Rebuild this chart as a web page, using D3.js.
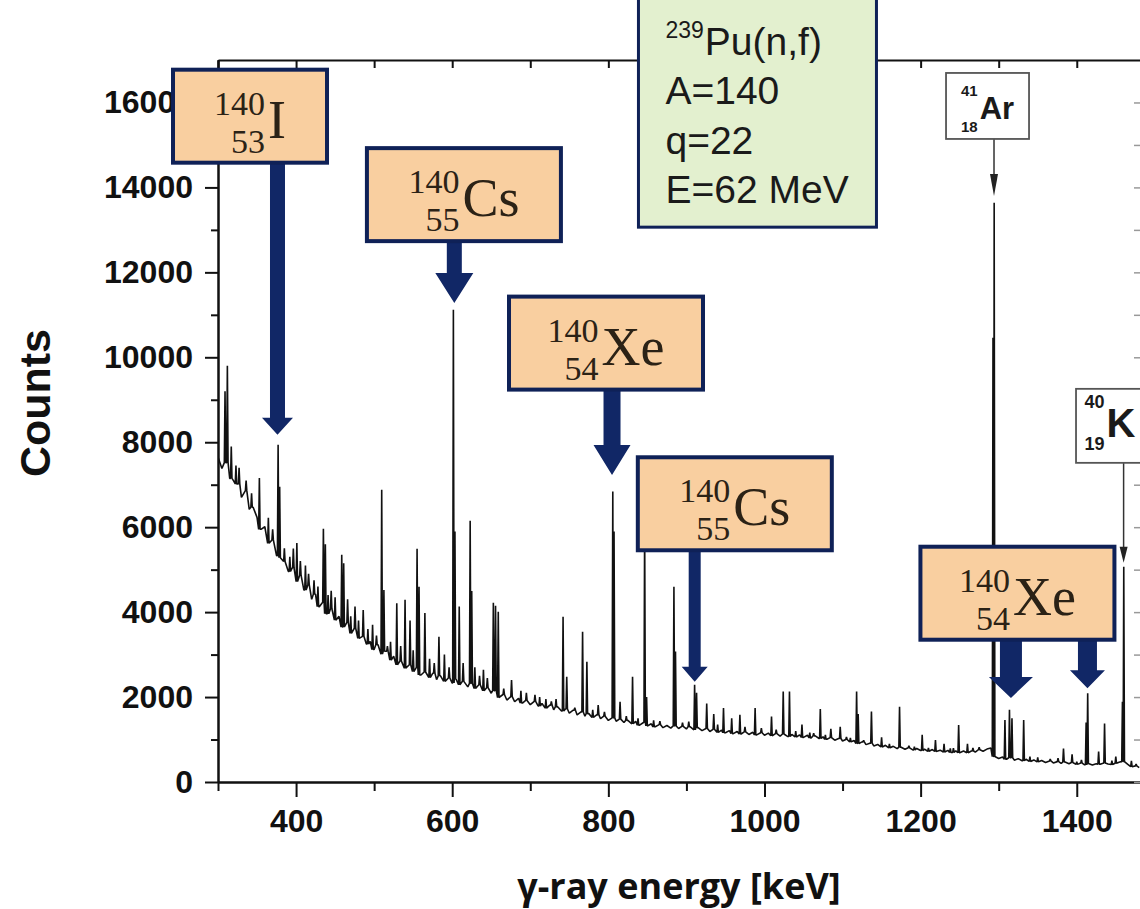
<!DOCTYPE html>
<html>
<head>
<meta charset="utf-8">
<script src="https://cdn.jsdelivr.net/npm/d3@7"></script>
<style>
  body { margin: 0; background: #fff; }
  svg { display: block; }
</style>
</head>
<body>
<div id="chart"></div>
<script>
// gamma spectrum, continuum sampled every 5 keV from 300 keV
const bgStart = 300;
const bgStep = 5;
const bgCounts = [
  7650, 7380, 7520, 7150, 7090, 7020, 6700, 6860, 6420, 6470, 6230, 5950, 6010, 5620, 5700, 5330, 5280, 5190, 4960, 5040,
  4720, 4870, 4520, 4640, 4300, 4420, 4130, 4230, 3960, 4080, 3810, 3900, 3650, 3760, 3500, 3620, 3380, 3430, 3250, 3310,
  3120, 3230, 3010, 3080, 2870, 2960, 2760, 2850, 2680, 2760, 2600, 2700, 2520, 2590, 2460, 2560, 2410, 2500, 2370, 2450,
  2330, 2420, 2290, 2370, 2240, 2320, 2200, 2290, 2150, 2220, 2090, 2150, 1990, 2060, 1930, 2010, 1890, 1970, 1860, 1920,
  1820, 1900, 1790, 1850, 1740, 1810, 1700, 1770, 1670, 1720, 1620, 1690, 1580, 1650, 1550, 1610, 1520, 1580, 1490, 1550,
  1450, 1510, 1430, 1480, 1400, 1450, 1370, 1430, 1340, 1400, 1320, 1370, 1300, 1350, 1280, 1330, 1270, 1320, 1260, 1310,
  1250, 1300, 1230, 1280, 1210, 1260, 1190, 1240, 1170, 1220, 1160, 1210, 1140, 1190, 1130, 1180, 1120, 1170, 1110, 1160,
  1100, 1150, 1090, 1140, 1080, 1130, 1070, 1120, 1060, 1110, 1050, 1100, 1040, 1085, 1025, 1065, 1005, 1045, 985, 1025,
  965, 1000, 945, 975, 905, 945, 880, 915, 850, 885, 825, 865, 805, 840, 785, 820, 770, 805, 755, 790,
  740, 775, 725, 765, 720, 750, 705, 745, 695, 735, 690, 730, 690, 730, 705, 760, 725, 775, 800, 600,
  555, 590, 535, 570, 515, 550, 500, 535, 485, 520, 475, 505, 460, 495, 450, 480, 440, 470, 430, 460,
  415, 445, 405, 435, 400, 430, 420, 450, 425, 410, 440, 470, 480, 420, 360, 380, 340
];

// strong peak lines: energy (keV) and top counts
const peakEnergy = [
  309, 312, 317, 323, 336, 353, 364.5, 377, 379, 392, 396.5, 401, 405.5, 412, 416,
  435, 437.5, 445, 450, 458.5, 461, 466, 475.5, 486, 498, 509.7, 512.5, 521, 529, 539.6,
  546, 555, 557.5, 565, 583, 590, 601.5, 603.5, 609, 614, 623, 625, 629, 640, 652.7,
  655.5, 659, 676, 688, 706, 720, 742, 746.7, 767, 772.5, 787, 805.7, 807.3, 815, 831,
  846.5, 849, 884, 886, 910.5, 913, 926, 935, 947.5, 958, 968.5, 988, 1009, 1024, 1032,
  1048, 1071.5, 1085, 1097, 1118, 1120, 1137, 1150, 1173, 1202, 1219, 1230, 1248.7, 1260,
  1292.7, 1294.2, 1308, 1313.8, 1317, 1332, 1383, 1394, 1412, 1414, 1428, 1435.6, 1458.5, 1460.2, 1470
];
const peakCounts = [
  9200, 9800, 7900, 7450, 7100, 7160, 6220, 7940, 6950, 5300, 5500, 5630, 5200, 5100, 4900,
  5960, 5600, 4500, 4350, 5350, 5150, 4300, 4130, 4050, 3700, 6880, 4520, 3300, 4210, 4290,
  3800, 5490, 4600, 3980, 3420, 3000, 11120, 5900, 4130, 2800, 6150, 4500, 2700, 2640, 4220,
  4150, 4010, 2400, 2150, 2050, 1950, 3890, 2480, 3540, 2830, 1810, 6840, 5900, 1890, 2480,
  6100, 2000, 4600, 3070, 2290, 2100, 1850, 1600, 1740, 1500, 1580, 1740, 1540, 2130, 2130,
  1350, 1720, 1250, 1300, 2130, 1600, 1660, 1050, 1770, 1110, 990, 900, 1340, 900,
  10460, 13640, 1460, 1700, 1500, 1460, 790, 650, 1400, 2090, 715, 1380, 1890, 5070, 500
];

// small lines on the continuum
const minorEnergy = [
  327, 343, 370, 385, 423, 428, 441, 470, 480, 492, 503, 517, 534, 550, 571, 577, 596,
  635, 645, 666, 695, 712, 727, 733, 757, 780, 795, 823, 838, 858, 866, 895, 903, 940,
  975, 996, 1015, 1040, 1058, 1063, 1078, 1105, 1110, 1127, 1160, 1185, 1192, 1210, 1238,
  1242, 1267, 1275, 1340, 1350, 1366, 1376, 1400, 1406, 1445, 1450, 1476
];
const minorCounts = [
  7400, 6800, 5950, 5500, 4750, 4600, 4400, 3900, 3800, 3600, 3450, 3200, 3200, 3100, 2900, 2800, 2700,
  2500, 2450, 2200, 2100, 2000, 1900, 1950, 1750, 1700, 1650, 1550, 1500, 1450, 1430, 1400, 1420, 1350,
  1300, 1270, 1230, 1200, 1160, 1150, 1110, 1060, 1040, 980, 900, 850, 830, 800, 790,
  800, 800, 820, 600, 580, 540, 560, 480, 520, 500, 600, 420
];

// axes
const yTicks = [0, 2000, 4000, 6000, 8000, 10000, 12000, 14000, 16000];
const yMinorTicks = [1000, 3000, 5000, 7000, 9000, 11000, 13000, 15000];
const xTicks = [400, 600, 800, 1000, 1200, 1400];
const xMinorTicks = [300, 500, 700, 900, 1100, 1300];
const xTopTicks = [300, 400, 500, 600, 700, 800, 900, 1000, 1100, 1200, 1300, 1400];
const xTitle = 'γ-ray energy [keV]';
const yTitle = 'Counts';

// fission fragment labels (box anchored in data space)
const fragMass = ['140', '140', '140', '140', '140'];
const fragZ = ['53', '55', '54', '55', '54'];
const fragSymbol = ['I', 'Cs', 'Xe', 'Cs', 'Xe'];
const fragBoxEnergy = [341, 615, 797, 962, 1324];
const fragBoxCounts = [15677, 13830, 10334, 6551, 4445];

// arrows from the fragment boxes down to the peaks
const arrowBox = [0, 1, 2, 3, 4, 4];
const arrowEnergy = [376.2, 602.7, 804.7, 910.6, 1315.7, 1413.7];
const arrowTipCounts = [8174, 11280, 7230, 2360, 1980, 2210];

// background lines
const refMass = ['41', '40'];
const refZ = ['18', '19'];
const refSymbol = ['Ar', 'K'];
const refBoxEnergy = [1285.7, 1442.6];
const refBoxCounts = [15918, 8386];
const refArrowEnergy = [1294, 1460];
const refArrowTipCounts = [13800, 5160];

// reaction info box
const infoSup = '239';
const infoLines = ['Pu(n,f)', 'A=140', 'q=22', 'E=62 MeV'];
const infoEnergy = 991;
const infoCounts = 15760;

// ---------- styles ----------
const width = 1140;
const height = 909;
const plot = { left: 218, right: 1140, top: 60, bottom: 782 };
const navy = '#0f2157';
const arrowColor = '#112766';
const peach = '#f9cfa0';
const axisFont = "'Liberation Sans', Arial, sans-serif";

const fragBoxW = [154, 194, 194, 194, 194];
const fragBoxH = 93;
const arrowShape = [
  { shaft: 15, headW: 31, headL: 17 },
  { shaft: 15, headW: 38, headL: 30 },
  { shaft: 17, headW: 37, headL: 30 },
  { shaft: 12, headW: 26, headL: 15 },
  { shaft: 22, headW: 44, headL: 21 },
  { shaft: 19, headW: 35, headL: 18 }
];
const refStyle = [
  { w: 83, h: 66, num: 15, sym: 31, massBase: 23, zBase: 59, symBase: 46, headL: 22 },
  { w: 68, h: 74, num: 18, sym: 40, massBase: 19, zBase: 61, symBase: 48, headL: 16 }
];

let svg = d3
  .select('#chart')
  .append('svg')
  .attr('width', width)
  .attr('height', height);

let xScale = d3.scaleLinear().domain([300, 1481]).range([plot.left, plot.right]);
let yScale = d3.scaleLinear().domain([0, 17000]).range([plot.bottom, plot.top]);

svg
  .append('defs')
  .append('clipPath')
  .attr('id', 'plot-clip')
  .append('rect')
  .attr('x', plot.left)
  .attr('y', plot.top)
  .attr('width', plot.right - plot.left + 5)
  .attr('height', plot.bottom - plot.top);

// Build the spectrum line: continuum points plus narrow spikes for peaks
let allPeakE = peakEnergy.concat(minorEnergy);
let allPeakC = peakCounts.concat(minorCounts);
let spectrum = [];
bgCounts.forEach((c, i) => {
  let e = bgStart + i * bgStep;
  let hit = allPeakE.some((p) => Math.abs(p - e) < 1.1);
  if (!hit) spectrum.push({ e: e, c: c });
});
allPeakE.forEach((e, i) => {
  let j = Math.round((e - bgStart) / bgStep);
  j = Math.max(0, Math.min(bgCounts.length - 1, j));
  let base = bgCounts[j];
  spectrum.push({ e: e - 0.9, c: base });
  spectrum.push({ e: e, c: allPeakC[i] });
  spectrum.push({ e: e + 0.9, c: base });
});
spectrum.sort((a, b) => a.e - b.e);

let line = d3
  .line()
  .x((d) => xScale(d.e))
  .y((d) => yScale(d.c));

svg
  .append('path')
  .datum(spectrum)
  .attr('clip-path', 'url(#plot-clip)')
  .attr('fill', 'none')
  .attr('stroke', '#111')
  .attr('stroke-width', 1.6)
  .attr('stroke-linejoin', 'bevel')
  .attr('d', line);

// Axes
function styleAxis(g) {
  g.select('.domain').attr('stroke', '#111').attr('stroke-width', 2);
  g.selectAll('.tick line').attr('stroke', '#111').attr('stroke-width', 2);
  g.selectAll('.tick text')
    .attr('fill', '#111')
    .style('font-family', axisFont)
    .style('font-weight', 'bold')
    .style('font-size', '32px');
}

let yAxis = svg
  .append('g')
  .attr('class', 'axis y-axis')
  .attr('transform', `translate(${plot.left},0)`)
  .call(
    d3.axisLeft(yScale).tickValues(yTicks).tickFormat(d3.format('d'))
      .tickSize(13).tickPadding(12).tickSizeOuter(0)
  )
  .call(styleAxis);

svg
  .append('g')
  .attr('transform', `translate(${plot.left},0)`)
  .call(d3.axisLeft(yScale).tickValues(yMinorTicks).tickSize(7).tickFormat('').tickSizeOuter(0))
  .call(styleAxis);

let xAxis = svg
  .append('g')
  .attr('class', 'axis x-axis')
  .attr('transform', `translate(0,${plot.bottom})`)
  .call(
    d3.axisBottom(xScale).tickValues(xTicks).tickFormat(d3.format('d'))
      .tickSize(15).tickPadding(12).tickSizeOuter(0)
  )
  .call(styleAxis);

svg
  .append('g')
  .attr('transform', `translate(0,${plot.bottom})`)
  .call(d3.axisBottom(xScale).tickValues(xMinorTicks).tickSize(9).tickFormat('').tickSizeOuter(0))
  .call(styleAxis);

svg
  .append('g')
  .attr('transform', `translate(0,${plot.top})`)
  .call(d3.axisTop(xScale).tickValues(xTopTicks).tickSize(-8).tickFormat('').tickSizeOuter(0))
  .call(styleAxis);

svg
  .append('g')
  .attr('transform', `translate(${plot.right + 1},0)`)
  .call(d3.axisRight(yScale).tickValues(yTicks.concat(yMinorTicks)).tickSize(-7).tickFormat('').tickSizeOuter(0))
  .call(styleAxis)
  .call((g) => g.selectAll('.tick line').attr('stroke', '#999').attr('stroke-width', 1.5));

svg
  .append('text')
  .attr('x', (plot.left + plot.right) / 2)
  .attr('y', 899)
  .attr('text-anchor', 'middle')
  .attr('fill', '#111')
  .style('font-family', "'Open Sans', sans-serif")
  .style('font-weight', 'bold')
  .style('font-size', '36px')
  .text(xTitle);

svg
  .append('text')
  .attr('transform', 'translate(50,403) rotate(-90)')
  .attr('text-anchor', 'middle')
  .attr('fill', '#111')
  .style('font-family', axisFont)
  .style('font-weight', 'bold')
  .style('font-size', '43px')
  .text(yTitle);

// Reaction info box
let infoW = 238;
let infoH = 229;
let infoX = xScale(infoEnergy) - infoW / 2;
let infoY = yScale(infoCounts) - infoH / 2;
let info = svg.append('g');
info
  .append('rect')
  .attr('x', infoX)
  .attr('y', infoY)
  .attr('width', infoW)
  .attr('height', infoH)
  .attr('fill', '#e3f0cf')
  .attr('stroke', navy)
  .attr('stroke-width', 3);

let infoText = info
  .append('text')
  .attr('fill', '#1a1a1a')
  .style('font-family', axisFont)
  .style('font-size', '39px');

let sup = infoText
  .append('tspan')
  .attr('x', infoX + 27)
  .attr('y', infoY + 40)
  .style('font-size', '23px')
  .text(infoSup);
let supW = sup.node().getComputedTextLength();

infoLines.forEach((txt, i) => {
  infoText
    .append('tspan')
    .attr('x', infoX + 27 + (i === 0 ? supW + 1 : 0))
    .attr('y', infoY + 57 + i * 49.3)
    .text(txt);
});

// Block arrows from fragment boxes
function blockArrow(cx, y0, y1, s) {
  let hy = y1 - s.headL;
  return `M${cx - s.shaft / 2},${y0} L${cx + s.shaft / 2},${y0} L${cx + s.shaft / 2},${hy} ` +
    `L${cx + s.headW / 2},${hy} L${cx},${y1} L${cx - s.headW / 2},${hy} L${cx - s.shaft / 2},${hy} Z`;
}

arrowEnergy.forEach((e, i) => {
  let b = arrowBox[i];
  let boxBottom = yScale(fragBoxCounts[b]) + fragBoxH / 2;
  svg
    .append('path')
    .attr('d', blockArrow(xScale(e), boxBottom - 2, yScale(arrowTipCounts[i]), arrowShape[i]))
    .attr('fill', arrowColor);
});

// Stacked nuclide label (one text element): mass over Z, then the symbol
function nuclideLabel(g, cx, top, mass, z, sym, st) {
  let t = g
    .append('text')
    .attr('fill', st.color)
    .style('font-family', st.family)
    .style('font-weight', st.weight);
  let m = t.append('tspan').attr('y', top + st.massBase).style('font-size', st.num + 'px').text(mass);
  let zt = t.append('tspan').attr('y', top + st.zBase).style('font-size', st.num + 'px').text(z);
  let s = t.append('tspan').attr('y', top + st.symBase).style('font-size', st.sym + 'px').text(sym);
  let mw = m.node().getComputedTextLength();
  let zw = zt.node().getComputedTextLength();
  let sw = s.node().getComputedTextLength();
  let nw = Math.max(mw, zw);
  let left = cx - (nw + st.gap + sw) / 2;
  m.attr('x', left + nw - mw);
  zt.attr('x', left + nw - zw);
  s.attr('x', left + nw + st.gap);
}

fragSymbol.forEach((sym, i) => {
  let cx = xScale(fragBoxEnergy[i]);
  let top = yScale(fragBoxCounts[i]) - fragBoxH / 2;
  let g = svg.append('g');
  g.append('rect')
    .attr('x', cx - fragBoxW[i] / 2)
    .attr('y', top)
    .attr('width', fragBoxW[i])
    .attr('height', fragBoxH)
    .attr('fill', peach)
    .attr('stroke', navy)
    .attr('stroke-width', 4);
  nuclideLabel(g, cx, top, fragMass[i], fragZ[i], sym, {
    num: 34, sym: 54, massBase: 45, zBase: 83, symBase: 68, gap: 3,
    family: "'Liberation Serif', 'Times New Roman', serif", weight: 'normal', color: '#2b2216'
  });
});

// Background line labels (41Ar, 40K)
refSymbol.forEach((sym, i) => {
  let st = refStyle[i];
  let cx = xScale(refBoxEnergy[i]);
  let top = yScale(refBoxCounts[i]) - st.h / 2;
  let ax = xScale(refArrowEnergy[i]);
  let tip = yScale(refArrowTipCounts[i]);
  let g = svg.append('g');
  g.append('line')
    .attr('x1', ax)
    .attr('x2', ax)
    .attr('y1', top + st.h)
    .attr('y2', tip - st.headL + 2)
    .attr('stroke', '#333')
    .attr('stroke-width', 1.5);
  g.append('path')
    .attr('d', `M${ax - 4},${tip - st.headL} L${ax + 4},${tip - st.headL} L${ax},${tip} Z`)
    .attr('fill', '#222');
  g.append('rect')
    .attr('x', cx - st.w / 2)
    .attr('y', top)
    .attr('width', st.w)
    .attr('height', st.h)
    .attr('fill', '#fff')
    .attr('stroke', '#555')
    .attr('stroke-width', 1.8);
  nuclideLabel(g, cx, top, refMass[i], refZ[i], sym, {
    num: st.num, sym: st.sym, massBase: st.massBase, zBase: st.zBase, symBase: st.symBase, gap: 2,
    family: axisFont, weight: 'bold', color: '#1a1a1a'
  });
});
</script>
</body>
</html>
